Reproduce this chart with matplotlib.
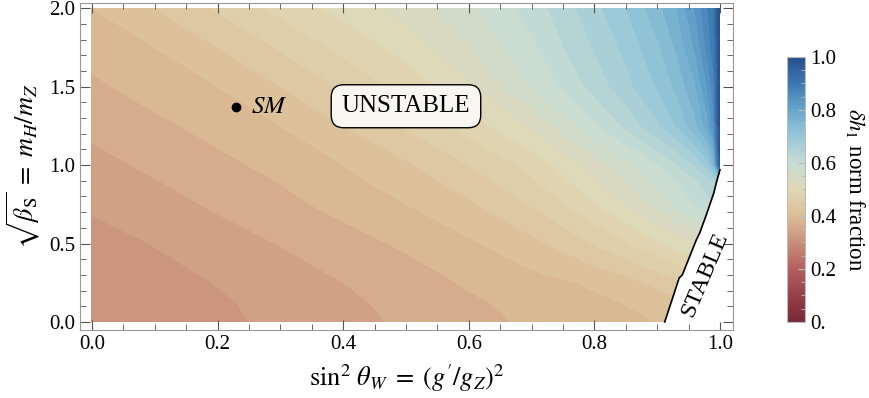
import numpy as np
import matplotlib
matplotlib.use("Agg")
import matplotlib.pyplot as plt
from matplotlib.colors import LinearSegmentedColormap, Normalize
from matplotlib.cm import ScalarMappable
from matplotlib.ticker import MultipleLocator

plt.rcParams['font.family'] = ['Liberation Serif', 'DejaVu Serif']
plt.rcParams['mathtext.fontset'] = 'stix'

# grid
sin2w = [0.0, 0.1, 0.2, 0.3, 0.4, 0.5, 0.6, 0.7, 0.75, 0.8, 0.85, 0.9, 0.93, 0.96, 0.98, 0.99, 1.0]
sqrt_beta = [0.0, 0.125, 0.25, 0.5, 0.75, 0.9, 1.0, 1.25, 1.5, 1.75, 2.0]
norm_frac = [
    [0.303, 0.312, 0.320, 0.330, 0.342, 0.354, 0.367, 0.379, 0.385, 0.390, 0.395, 0.400, 0.405, 0.410, 0.415, 0.418, 0.420],
    [0.304, 0.313, 0.322, 0.332, 0.345, 0.357, 0.371, 0.383, 0.389, 0.395, 0.401, 0.410, 0.418, 0.425, 0.430, 0.433, 0.435],
    [0.306, 0.315, 0.326, 0.337, 0.350, 0.363, 0.378, 0.391, 0.397, 0.404, 0.415, 0.432, 0.443, 0.455, 0.462, 0.466, 0.470],
    [0.315, 0.326, 0.338, 0.351, 0.365, 0.379, 0.396, 0.418, 0.433, 0.452, 0.472, 0.495, 0.510, 0.525, 0.532, 0.536, 0.540],
    [0.329, 0.340, 0.354, 0.368, 0.383, 0.400, 0.421, 0.452, 0.473, 0.497, 0.525, 0.558, 0.580, 0.600, 0.615, 0.622, 0.630],
    [0.337, 0.349, 0.362, 0.376, 0.393, 0.412, 0.437, 0.472, 0.495, 0.522, 0.550, 0.580, 0.600, 0.622, 0.638, 0.648, 0.658],
    [0.342, 0.355, 0.368, 0.383, 0.400, 0.421, 0.450, 0.483, 0.508, 0.536, 0.565, 0.597, 0.622, 0.652, 0.688, 0.740, 0.970],
    [0.356, 0.369, 0.384, 0.400, 0.425, 0.453, 0.486, 0.528, 0.560, 0.596, 0.630, 0.670, 0.700, 0.742, 0.788, 0.840, 1.000],
    [0.370, 0.386, 0.400, 0.425, 0.453, 0.484, 0.520, 0.575, 0.604, 0.634, 0.666, 0.702, 0.730, 0.770, 0.825, 0.866, 1.000],
    [0.385, 0.400, 0.425, 0.453, 0.482, 0.509, 0.548, 0.594, 0.624, 0.652, 0.682, 0.720, 0.753, 0.803, 0.857, 0.891, 1.000],
    [0.400, 0.425, 0.453, 0.483, 0.508, 0.536, 0.568, 0.612, 0.637, 0.667, 0.699, 0.741, 0.773, 0.825, 0.873, 0.903, 1.000],
]
levels = np.arange(0.275, 1.0001, 0.025)

# stability boundary
stable_x = [0.912, 0.935, 0.940, 0.962, 0.968, 0.978, 0.984, 0.990, 0.995, 1.0]
stable_y = [0.0, 0.28, 0.30, 0.52, 0.57, 0.68, 0.75, 0.82, 0.90, 0.97]

sm_point = (0.229, 1.37)

cmap_stops = [0.0, 0.1, 0.2, 0.3, 0.4, 0.5, 0.6, 0.7, 0.8, 0.9, 1.0]
cmap_colors = ['#782836', '#96404a', '#b4605f', '#c98f7a', '#dcbe98', '#e1d8b4',
               '#c8dcd4', '#98c8d8', '#68a6cc', '#3d78b2', '#264f8e']
cmap = LinearSegmentedColormap.from_list('rbtones', list(zip(cmap_stops, cmap_colors)))
norm = Normalize(0, 1)

fig = plt.figure(figsize=(8.7, 3.98), dpi=100)
ax = fig.add_axes([0.092, 0.171, 0.7505, 0.821])

ax.contourf(sin2w, sqrt_beta, norm_frac, levels=levels, cmap=cmap, norm=norm, antialiased=False)
ax.fill_betweenx(stable_y, stable_x, 1.003, color='white', lw=0, zorder=2)
ax.plot(stable_x, stable_y, color='k', lw=1.2, zorder=3)

ax.plot(*sm_point, 'o', color='k', ms=6, zorder=4)
ax.text(sm_point[0] + 0.024, sm_point[1], '$SM$', fontsize=18, va='center', zorder=4)
ax.text(0.5, 1.375, 'UNSTABLE', fontsize=18, ha='center', va='center', zorder=4,
        bbox=dict(boxstyle='round,pad=0.42,rounding_size=0.5', fc='#f8f6f0', ec='k', lw=1))
ax.text(0.976, 0.30, 'STABLE', fontsize=17.5, rotation=67, rotation_mode='anchor',
        ha='center', va='center', zorder=4)

ax.set_xlim(-0.019, 1.0207)
ax.set_ylim(-0.051, 2.032)
ax.xaxis.set_major_locator(MultipleLocator(0.2))
ax.xaxis.set_minor_locator(MultipleLocator(0.05))
ax.yaxis.set_major_locator(MultipleLocator(0.5))
ax.yaxis.set_minor_locator(MultipleLocator(0.1))
ax.xaxis.set_major_formatter('{x:.1f}')
ax.yaxis.set_major_formatter('{x:.1f}')
ax.tick_params(which='both', direction='in', top=True, right=True, color='#555555', labelsize=15)
ax.tick_params(which='major', length=7)
ax.tick_params(which='minor', length=4)
for s in ax.spines.values():
    s.set_color('#999999')
ax.set_xlabel(r"$\sin^2\,\theta_W\;=\;(g^\prime/g_Z)^2$", fontsize=19, labelpad=6)
ax.set_ylabel(r"$\sqrt{\beta_{\mathrm{S}}}\;=\;m_H/m_Z$", fontsize=19, labelpad=4)

cax = fig.add_axes([0.9046, 0.191, 0.0207, 0.666])
cb = fig.colorbar(ScalarMappable(norm=norm, cmap=cmap), cax=cax)
cb.outline.set_edgecolor('#bbbbbb')
cb.set_ticks([0, 0.2, 0.4, 0.6, 0.8, 1.0])
cb.set_ticklabels(['0.', '0.2', '0.4', '0.6', '0.8', '1.0'])
cax.yaxis.set_minor_locator(MultipleLocator(0.05))
cax.tick_params(which='both', direction='in', color='#bbbbbb', labelsize=15)
cax.tick_params(which='major', length=5)
cax.tick_params(which='minor', length=3)
cb.set_label(r"$\delta h_1$ norm fraction", fontsize=16.5, rotation=270, labelpad=22)

fig.savefig('out.png', dpi=100)
